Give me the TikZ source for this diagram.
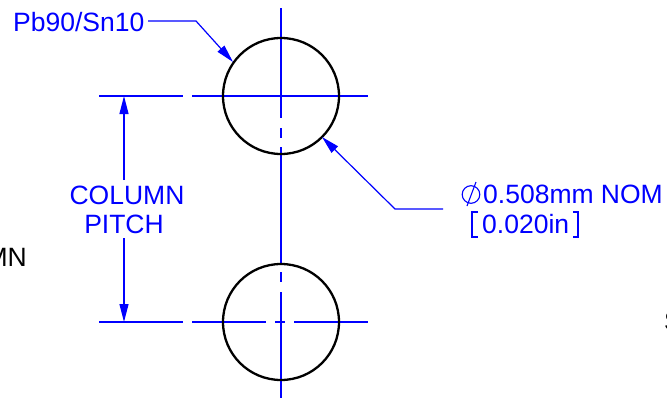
\documentclass[tikz,border=0pt]{standalone}
\usepackage{fontspec}
\setmainfont{Liberation Sans}
\usetikzlibrary{arrows.meta}
\definecolor{cadblue}{RGB}{0,0,255}
\tikzset{
  x=1pt,y=-1pt,
  ball/.style={draw=black,line width=2.3pt,circle,minimum size=116pt,inner sep=0pt},
  cl/.style={draw=cadblue,line width=1.2pt},
  dim/.style={cl,-{Triangle[length=18pt,width=9pt,color=cadblue,fill=cadblue]}},
  lbl/.style={text=cadblue,font=\fontsize{26.5}{30}\selectfont,inner sep=0pt,align=center},
  lblk/.style={text=black,font=\fontsize{26.5}{30}\selectfont,inner sep=0pt}
}
\begin{document}
\begin{tikzpicture}
\useasboundingbox (0,0) rectangle (667,399);
% centre lines
\coordinate (vt) at (281,8); \coordinate (vb) at (281,398);
\draw[cl] (vt) -- (281,118);
\draw[cl] (281,128) -- (281,138);
\draw[cl] (281,147) -- (281,263);
\draw[cl] (281,272) -- (281,282);
\draw[cl] (281,292) -- (vb);
\draw[cl] (99,96) -- (183,96);
\draw[cl] (192,96) -- (368,96);
\draw[cl] (99,322) -- (183,322);
\draw[cl] (192,322) -- (266,322);
\draw[cl] (275,322) -- (285,322);
\draw[cl] (294,322) -- (368,322);
% balls
\node[ball] (b1) at (281,96) {};
\node[ball] (b2) at (281,322) {};
% labels
\node[lbl,anchor=base west] (pb) at (13,31) {Pb90/Sn10};
\node[lbl,anchor=base] (col) at (127,204) {COLUMN};
\node[lbl,anchor=base] (pit) at (124,233) {PITCH};
\node[lbl,anchor=base west] (dia) at (483,203) {0.508mm NOM};
\node[lbl,anchor=base west] (in) at (482,233) {0.020in};
\node[lblk,anchor=base east] (mn) at (27,266) {MN};
\node[lblk,anchor=base west] (s) at (664,330) {S};
% diameter symbol and brackets
\draw[cl,line width=1.1pt] (471,194.5) circle (8.8);
\draw[cl,line width=1.1pt] (467,206) -- (476,182);
\draw[cl,line width=1.1pt] (478,212) -- (472,212) -- (472,237) -- (478,237);
\draw[cl,line width=1.1pt] (573,212) -- (578,212) -- (578,237) -- (573,237);
% leaders
\coordinate (l1a) at (148,21); \coordinate (l1b) at (196,21); \coordinate (l1c) at (233,62);
\draw[dim] (l1a) -- (l1b) -- (l1c);
\coordinate (l2a) at (443,209); \coordinate (l2b) at (395,209); \coordinate (l2c) at (322,137);
\draw[dim] (l2a) -- (l2b) -- (l2c);
% dimensions
\coordinate (d1) at (124,180); \coordinate (d2) at (124,238);
\draw[dim] (d1) -- (124,96);
\draw[dim] (d2) -- (124,322);
\end{tikzpicture}
\end{document}
